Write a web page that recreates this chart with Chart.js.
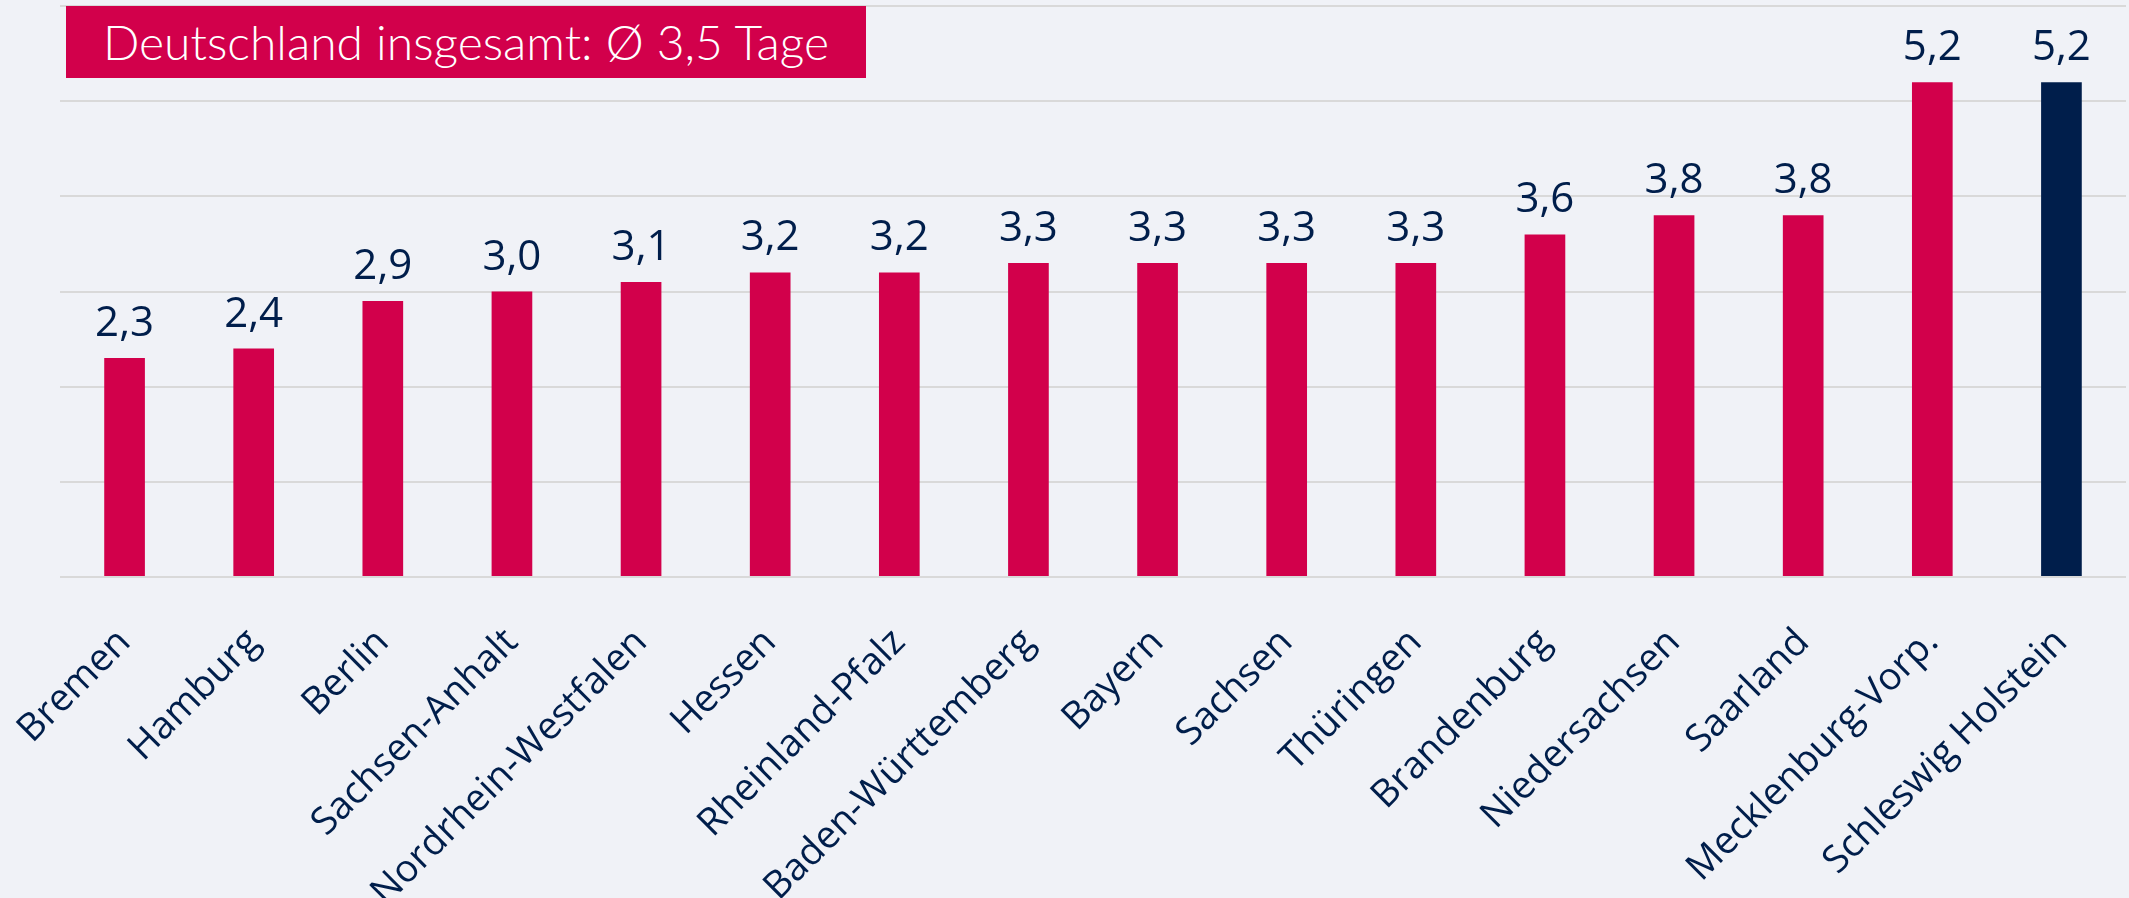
<!DOCTYPE html>
<html>
<head>
<meta charset="utf-8">
<script src="https://cdn.jsdelivr.net/npm/chart.js@4/dist/chart.umd.min.js"></script>
<style>
  html, body { margin: 0; padding: 0; background: #f0f2f7; }
  #wrap { position: relative; width: 2129px; height: 898px; }
  #badge {
    position: absolute; left: 66px; top: 6px; width: 800px; height: 72px;
    background: #d2004b; color: #fff;
    font-family: Lato, sans-serif; font-weight: 300; font-size: 48px;
    line-height: 72px; text-align: center; white-space: nowrap;
  }
</style>
</head>
<body>
<div id="wrap">
  <canvas id="myChart"></canvas>
  <div id="badge">Deutschland insgesamt: Ø 3,5 Tage</div>
</div>
<script>
const states = ['Bremen', 'Hamburg', 'Berlin', 'Sachsen-Anhalt', 'Nordrhein-Westfalen', 'Hessen',
  'Rheinland-Pfalz', 'Baden-Württemberg', 'Bayern', 'Sachsen', 'Thüringen', 'Brandenburg',
  'Niedersachsen', 'Saarland', 'Mecklenburg-Vorp.', 'Schleswig Holstein'];
const days = [2.3, 2.4, 2.9, 3.0, 3.1, 3.2, 3.2, 3.3, 3.3, 3.3, 3.3, 3.6, 3.8, 3.8, 5.2, 5.2];

const red = '#d2004b';
const navy = '#001e4b';

// value labels above bars, german decimal comma
const valueLabels = {
  id: 'valueLabels',
  afterDatasetsDraw(chart) {
    const ctx = chart.ctx;
    const meta = chart.getDatasetMeta(0);
    ctx.save();
    ctx.font = '42px "Open Sans"';
    ctx.fillStyle = navy;
    ctx.textAlign = 'center';
    ctx.textBaseline = 'alphabetic';
    meta.data.forEach((bar, i) => {
      ctx.fillText(days[i].toFixed(1).replace('.', ','), bar.x, bar.y - 22);
    });
    ctx.restore();
  }
};

new Chart(document.getElementById('myChart'), {
  type: 'bar',
  data: {
    labels: states,
    datasets: [{
      data: days,
      backgroundColor: days.map((v, i) => i === days.length - 1 ? navy : red),
      barPercentage: 0.315,
      categoryPercentage: 1
    }]
  },
  options: {
    responsive: true,
    maintainAspectRatio: false,
    animation: false,
    layout: { padding: { top: 6, right: 3, left: 0, bottom: 0 } },
    plugins: {
      legend: { display: false },
      tooltip: { enabled: false }
    },
    scales: {
      x: {
        grid: { display: false, drawTicks: false },
        border: { display: false },
        ticks: {
          autoSkip: false,
          minRotation: 45,
          maxRotation: 45,
          padding: 43,
          color: navy,
          font: { family: '"Open Sans"', size: 38 }
        },
        afterFit(scale) {
          scale.height = 321;
          scale.paddingLeft = 0;
          scale.paddingRight = 0;
        }
      },
      y: {
        min: 0,
        max: 6,
        ticks: { display: false, stepSize: 1 },
        grid: { color: '#d9d9d9', lineWidth: 2, drawTicks: false },
        border: { display: false },
        afterFit(scale) {
          scale.width = 60;
        }
      }
    }
  },
  plugins: [valueLabels]
});
</script>
</body>
</html>
